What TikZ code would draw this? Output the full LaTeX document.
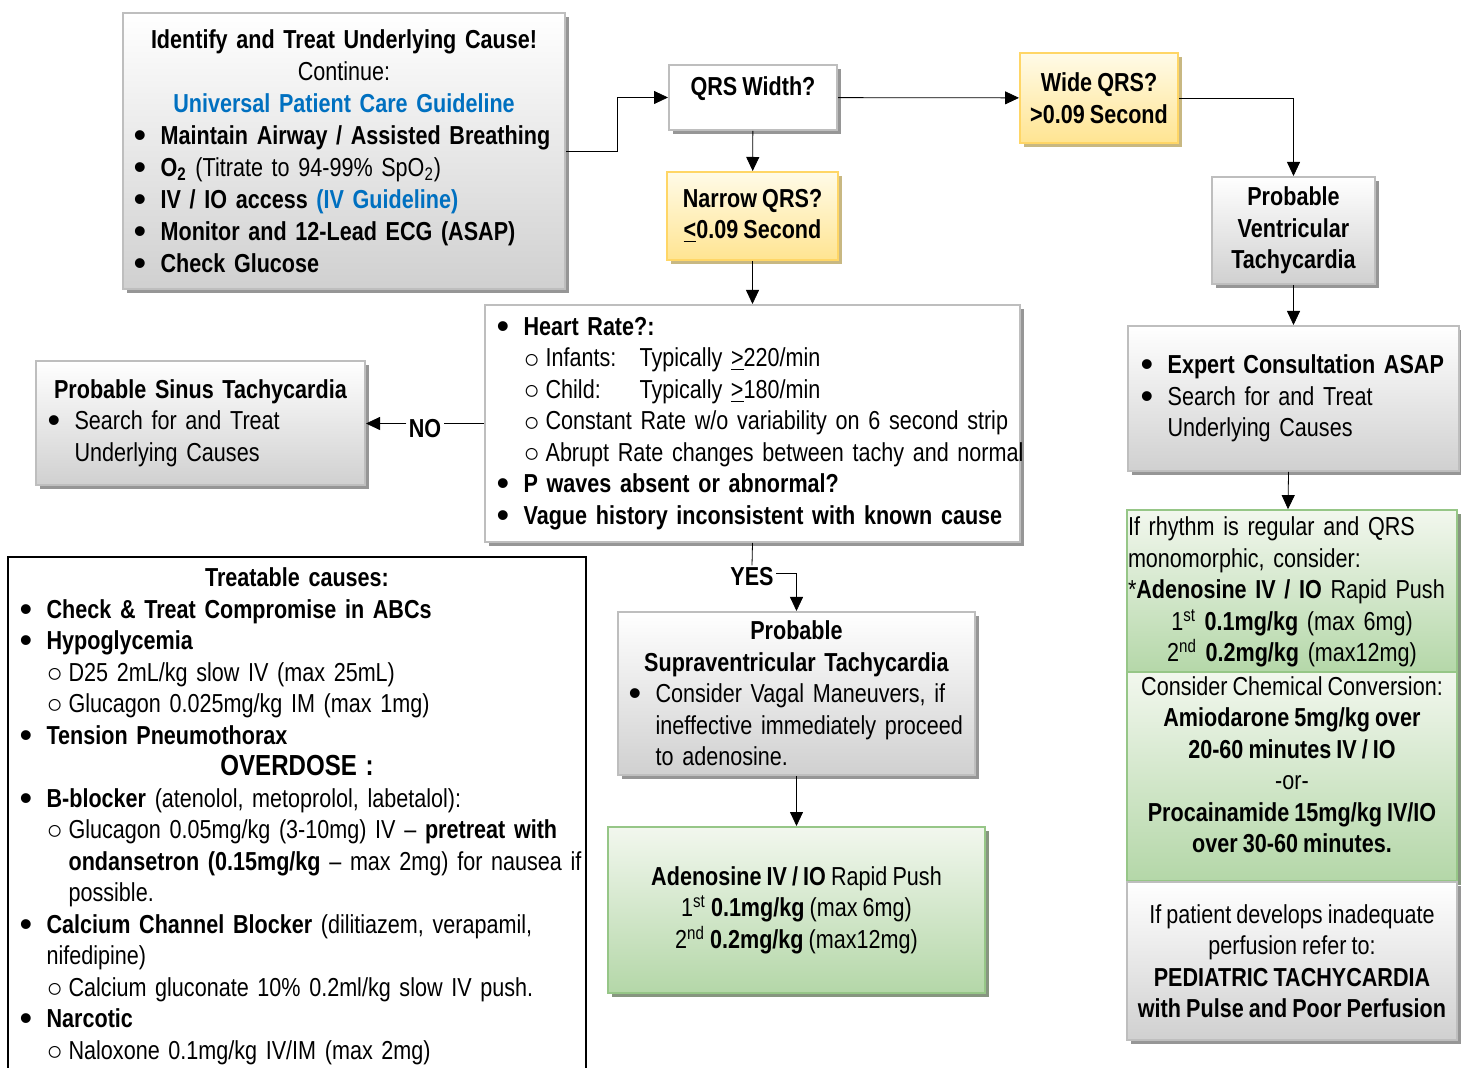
\documentclass[tikz,border=0pt]{standalone}
\usepackage{fontspec}
\setmainfont[FakeStretch=0.83, WordSpace=0.85]{Liberation Sans}
\newfontfamily\ringfont{Liberation Sans}
\usetikzlibrary{arrows.meta,positioning,shadows}

\definecolor{linkblue}{RGB}{0,112,192}
\definecolor{boxgrey}{RGB}{190,190,190}
\definecolor{greybot}{RGB}{208,208,208}
\definecolor{shadegrey}{RGB}{150,150,150}
\definecolor{yeltop}{RGB}{255,251,232}
\definecolor{yelbot}{RGB}{255,228,145}
\definecolor{yelline}{RGB}{255,214,102}
\definecolor{yelshadow}{RGB}{200,184,130}
\definecolor{grntop}{RGB}{242,247,238}
\definecolor{grnbot}{RGB}{180,215,168}
\definecolor{grnline}{RGB}{150,198,135}
\definecolor{grnshadow}{RGB}{135,150,128}

\newcommand{\boxfont}{\fontsize{13}{15.75}\selectfont}
\newcommand{\bul}{\makebox[13.5pt][l]{\raisebox{-1.5pt}[0pt][0pt]{\ringfont\fontsize{18}{18}\selectfont\textbullet}}}
\newcommand{\sbul}{\makebox[11pt][l]{\raisebox{-0.6pt}[0pt][0pt]{\ringfont\fontsize{13.5}{13.5}\selectfont ○}}}
\newcommand{\ind}{\hspace*{13.5pt}}
\newcommand{\ctr}[1]{\makebox[\linewidth]{#1}}

\tikzset{
    %Define standard arrow tip
    >={Triangle[length=7pt,width=6.5pt]},
    line width=1.2pt,
    greybox/.style={
      rectangle,
      draw=boxgrey, line width=1pt,
      top color=white, bottom color=greybot,
      drop shadow={shadow xshift=2pt, shadow yshift=-2pt, fill=shadegrey, opacity=1},
      font=\boxfont},
    whitebox/.style={
      rectangle,
      draw=boxgrey, line width=1pt, fill=white,
      drop shadow={shadow xshift=2pt, shadow yshift=-2pt, fill=shadegrey, opacity=1},
      font=\boxfont},
    yelbox/.style={
      rectangle,
      draw=yelline, line width=1pt,
      top color=yeltop, bottom color=yelbot,
      drop shadow={shadow xshift=2pt, shadow yshift=-2pt, fill=yelshadow, opacity=1},
      font=\boxfont\bfseries, align=center},
    grnbox/.style={
      rectangle,
      draw=grnline, line width=1pt,
      top color=grntop, bottom color=grnbot,
      drop shadow={shadow xshift=2pt, shadow yshift=-2pt, fill=grnshadow, opacity=1},
      font=\boxfont},
    causebox/.style={
      rectangle,
      draw=black, line width=0.8pt, fill=white,
      font=\boxfont},
    lbl/.style={
      font=\boxfont\bfseries,
      inner sep=1pt},
}

\begin{document}
\begin{tikzpicture}[x=0.5pt, y=-0.5pt]
    \useasboundingbox (0,0) rectangle (1461,1068);
    \clip (0,0) rectangle (1461,1068);

    % left column
    \node (idbox) [greybox, align=left, inner xsep=5.3pt, text width=210.4pt,
                   minimum height=138pt, font=\fontsize{13}{16}\selectfont] at (344,151)
          {\ctr{\textbf{Identify and Treat Underlying Cause!}}\\
           \ctr{Continue:}\\
           \ctr{\color{linkblue}\textbf{Universal Patient Care Guideline}}\\
           \bul\textbf{Maintain Airway / Assisted Breathing}\\
           \bul\textbf{O\textsubscript{2}} (Titrate to 94-99\% SpO\textsubscript{2})\\
           \bul\textbf{IV / IO access} {\color{linkblue}\textbf{(IV Guideline)}}\\
           \bul\textbf{Monitor and 12-Lead ECG (ASAP)}\\
           \bul\textbf{Check Glucose}};
    \node (sinus) [greybox, align=left, inner xsep=5.8pt, text width=152.9pt,
                   minimum height=62pt] at (200.5,423)
          {\ctr{\textbf{Probable Sinus Tachycardia}}\\
           \bul Search for and Treat\\
           \ind Underlying Causes};
    \node (treat) [causebox, align=left, anchor=north, inner xsep=5.8pt, inner ysep=5.5pt,
                   text width=277.4pt] at (297,556)
          {\ctr{\textbf{Treatable causes:}}\\
           \bul\textbf{Check \& Treat Compromise in ABCs}\\
           \bul\textbf{Hypoglycemia}\\
           \ind\sbul D25 2mL/kg slow IV (max 25mL)\\
           \ind\sbul Glucagon 0.025mg/kg IM (max 1mg)\\
           \bul\textbf{Tension Pneumothorax}\\
           \ctr{\fontsize{14.5}{15.75}\selectfont\textbf{OVERDOSE :}}\\
           \bul\mbox{\textbf{B-blocker} (atenolol, metoprolol, labetalol):}\\
           \ind\sbul\mbox{Glucagon 0.05mg/kg (3-10mg) IV -- \textbf{pretreat with}}\\
           \ind\hspace*{11pt}\mbox{\textbf{ondansetron (0.15mg/kg} -- max 2mg) for nausea if}\\
           \ind\hspace*{11pt}possible.\\
           \bul\mbox{\textbf{Calcium Channel Blocker} (dilitiazem, verapamil,}\\
           \ind nifedipine)\\
           \ind\sbul\mbox{Calcium gluconate 10\% 0.2ml/kg slow IV push.}\\
           \bul\textbf{Narcotic}\\
           \ind\sbul Naloxone 0.1mg/kg IV/IM (max 2mg)};

    % middle column
    \node (qrs) [whitebox, font=\boxfont\bfseries, minimum width=84pt,
                 inner ysep=6pt, text height=9.5pt, text depth=11pt] at (753,97.5)
          {QRS Width?};
    \node (narrow) [yelbox, minimum width=85.5pt, minimum height=44pt] at (752.5,216)
          {Narrow QRS?\\\underline{<}0.09 Second}
          edge [<-] (qrs);
    \node (hr) [whitebox, align=left, inner xsep=5.8pt, text width=255.9pt,
                minimum height=118.5pt] at (752.5,423.5)
          {\bul\textbf{Heart Rate?:}\\
           \ind\sbul\makebox[47pt][l]{Infants:}Typically \underline{>}220/min\\
           \ind\sbul\makebox[47pt][l]{Child:}Typically \underline{>}180/min\\
           \ind\sbul\mbox{Constant Rate w/o variability on 6 second strip}\\
           \ind\sbul\mbox{Abrupt Rate changes between tachy and normal}\\
           \bul\textbf{P waves absent or abnormal?}\\
           \bul\mbox{\textbf{Vague history inconsistent with known cause}}}
          edge [<-] (narrow);
    \node (no) [lbl] at (425,429) {NO};
    \node (yes) [lbl] at (752,577) {YES};
    \node (svt) [greybox, align=left, inner xsep=5.3pt, text width=167.9pt,
                 minimum height=81.5pt] at (796.5,693.5)
          {\ctr{\textbf{Probable}}\\
           \ctr{\textbf{Supraventricular Tachycardia}}\\
           \bul Consider Vagal Maneuvers, if\\
           \ind\mbox{ineffective immediately proceed}\\
           \ind to adenosine.};
    \node (aden) [grnbox, align=center, minimum width=188.5pt, minimum height=83pt]
          at (796.5,910)
          {\textbf{Adenosine IV / IO} Rapid Push\\
           1\textsuperscript{st} \textbf{0.1mg/kg} (max 6mg)\\
           2\textsuperscript{nd} \textbf{0.2mg/kg} (max12mg)}
          edge [<-] (svt);

    % right column
    \node (wide) [yelbox, minimum width=79pt, minimum height=45pt] at (1099,98)
          {Wide QRS?\\>0.09 Second}
          edge [<-] (qrs);
    \node (vt) [greybox, align=center, font=\boxfont\bfseries, minimum width=81.5pt,
                minimum height=53.5pt] at (1293.5,230.5)
          {Probable\\Ventricular\\Tachycardia};
    \node (expert) [greybox, align=left, inner xsep=6.3pt, text width=152.9pt,
                    minimum height=72.5pt] at (1293.5,398.5)
          {\bul\textbf{Expert Consultation ASAP}\\
           \bul Search for and Treat\\
           \ind Underlying Causes}
          edge [<-] (vt);
    \node (rg1) [grnbox, align=left, inner xsep=0.5pt, text width=164pt,
                 minimum height=80pt] at (1292,592)
          {If rhythm is regular and QRS\\
           monomorphic, consider:\\
           {*}\textbf{Adenosine IV / IO} Rapid Push\\
           \ctr{1\textsuperscript{st} \textbf{0.1mg/kg} (max 6mg)}\\
           \ctr{2\textsuperscript{nd} \textbf{0.2mg/kg} (max12mg)}};
    \node (rg2) [grnbox, align=center, minimum width=165pt, inner ysep=2pt,
                 text depth=12pt, minimum height=103.5pt] at (1292,776.5)
          {Consider Chemical Conversion:\\
           \textbf{Amiodarone 5mg/kg over}\\
           \textbf{20-60 minutes IV / IO}\\
           -or-\\
           \textbf{Procainamide 15mg/kg IV/IO}\\
           \textbf{over 30-60 minutes.}};
    \node (rg3) [greybox, align=center, minimum width=165pt, minimum height=79pt]
          at (1292,961)
          {If patient develops inadequate\\
           perfusion refer to:\\
           \textbf{PEDIATRIC TACHYCARDIA}\\
           \textbf{with Pulse and Poor Perfusion}};

    % elbow connectors
    \draw [->] (idbox.east) -- ++(51,0) |- (qrs.west);
    \draw [->] (wide.east) -| (vt.north);
    \draw (hr.west) -- (hr.west -| no.east);
    \draw [->] (no.west |- hr.west) -- (hr.west -| sinus.east);
    \draw (hr.south) -- (yes.north);
    \draw [->] ([yshift=2pt]yes.east) -| (svt.north);
    \draw [->] ([xshift=-2.5pt]expert.south) -- ([xshift=-2pt]rg1.north);
\end{tikzpicture}
\end{document}
